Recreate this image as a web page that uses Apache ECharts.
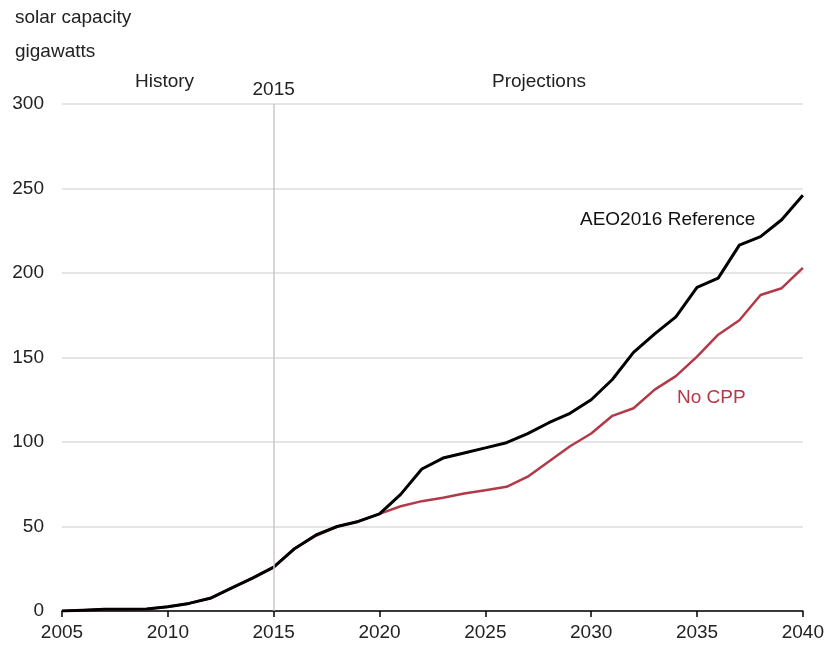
<!DOCTYPE html>
<html>
<head>
<meta charset="utf-8">
<script src="https://cdn.jsdelivr.net/npm/echarts@6/dist/echarts.min.js"></script>
<style>
html, body { margin: 0; padding: 0; background: #fff; }
#main { width: 827px; height: 652px; }
</style>
</head>
<body>
<div id="main"></div>
<script>
var FONT = '"Liberation Sans", Arial, sans-serif';
var FS = 19;

var years = [2005, 2006, 2007, 2008, 2009, 2010, 2011, 2012, 2013, 2014, 2015, 2016,
  2017, 2018, 2019, 2020, 2021, 2022, 2023, 2024, 2025, 2026, 2027, 2028, 2029,
  2030, 2031, 2032, 2033, 2034, 2035, 2036, 2037, 2038, 2039, 2040];

// AEO2016 Reference case
var reference = [0, 0.5, 1, 1, 1.2, 2.5, 4.5, 7.5, 13.5, 19.5, 26, 37,
  45, 50, 53, 57.5, 69, 84, 90.5, 93.5, 96.5, 99.6, 105, 111.4, 117,
  125, 137, 153, 164, 174, 191.5, 197, 216.5, 221.5, 231.5, 246];

// No CPP case
var noCpp = [0, 0.5, 1, 1, 1.2, 2.5, 4.5, 7.5, 13.5, 19.5, 26, 37,
  44.5, 50, 53, 57.5, 62, 65, 67, 69.5, 71.5, 73.5, 79.5, 88.5, 97.5,
  105, 115.5, 120, 131, 139, 150.5, 163.5, 172, 187, 191, 203];

var yTicks = [0, 50, 100, 150, 200, 250, 300];

function pairs(vals) {
  var out = [];
  for (var i = 0; i < years.length; i++) out.push([years[i], vals[i]]);
  return out;
}

var chartDom = document.getElementById('main');
var myChart = echarts.init(chartDom);

function label(text, left, top, color) {
  return { type: 'text', left: left, top: top,
    style: { text: text, fontSize: FS, fontFamily: FONT, fill: color || '#222' } };
}

var option = {
  animation: false,
  textStyle: { fontFamily: FONT },
  grid: { left: 62, right: 22, top: 104, bottom: 41 },
  xAxis: {
    type: 'value',
    min: 2005,
    max: 2040,
    interval: 5,
    axisLine: { show: true, lineStyle: { color: '#000', width: 1.5 } },
    axisTick: { show: true, length: 6, lineStyle: { color: '#000', width: 1.5 } },
    axisLabel: { color: '#222', fontSize: FS, fontFamily: FONT, margin: 12,
      formatter: function (v) { return String(v); } },
    splitLine: { show: false }
  },
  yAxis: {
    type: 'value',
    min: yTicks[0],
    max: yTicks[yTicks.length - 1],
    interval: 50,
    axisLine: { show: false },
    axisTick: { show: false },
    axisLabel: { color: '#222', fontSize: FS, fontFamily: FONT, margin: 18 },
    splitLine: { lineStyle: { color: '#dcdcdc', width: 1.5 } }
  },
  graphic: [
    label('solar capacity', 15, 8),
    label('gigawatts', 15, 42),
    label('History', 135, 72),
    label('Projections', 492, 72),
    label('AEO2016 Reference', 580, 210, '#111'),
    label('No CPP', 677, 388, '#b23a48')
  ],
  series: [
    {
      name: 'No CPP',
      type: 'line',
      data: pairs(noCpp),
      showSymbol: false,
      lineStyle: { color: '#b23a48', width: 2.5 },
      markLine: {
        silent: true,
        symbol: 'none',
        lineStyle: { color: '#c8c8c8', width: 1.5, type: 'solid' },
        label: { show: true, position: 'end', formatter: '2015', fontSize: FS,
          fontFamily: FONT, color: '#222', distance: 5 },
        data: [{ xAxis: 2015 }]
      }
    },
    {
      name: 'AEO2016 Reference',
      type: 'line',
      data: pairs(reference),
      showSymbol: false,
      lineStyle: { color: '#000', width: 3 }
    }
  ]
};

myChart.setOption(option);
</script>
</body>
</html>
